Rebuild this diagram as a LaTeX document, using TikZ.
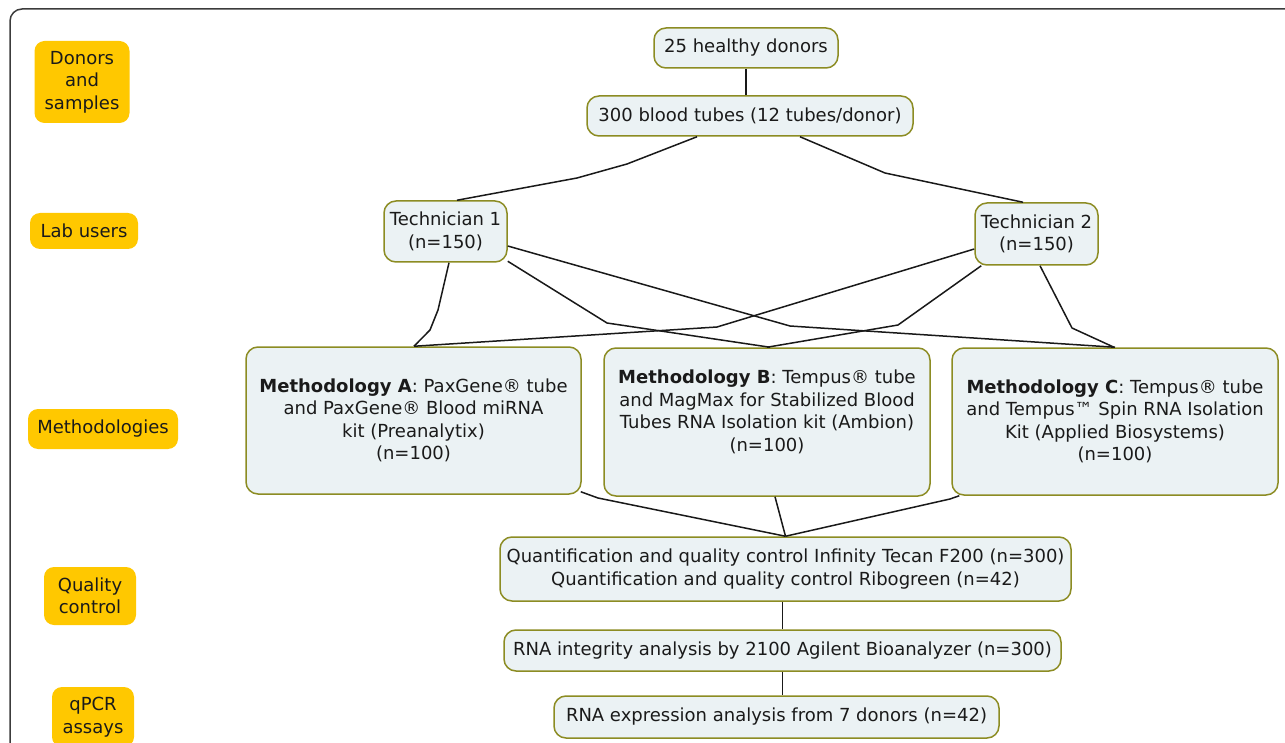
\documentclass[tikz,border=0pt]{standalone}
\usepackage{fontspec}
\setmainfont{DejaVu Sans}
\usetikzlibrary{calc}
\definecolor{catyellow}{HTML}{FFC800}
\definecolor{boxfill}{HTML}{EBF2F4}
\definecolor{boxline}{HTML}{8C8C23}
\definecolor{framecol}{HTML}{3C3C3C}
\definecolor{txt}{HTML}{1A1A1A}
\tikzset{
  basefont/.style={font=\fontsize{18}{22.5}\selectfont, text=txt},
  cat/.style={basefont, fill=catyellow, rounded corners=10pt, align=center, inner sep=2pt},
  box/.style={basefont, draw=boxline, fill=boxfill, line width=1.5pt, rounded corners=12pt, align=center, inner sep=2pt},
  conn/.style={draw=black!90, line width=1.5pt, line join=round},
}
\begin{document}
\begin{tikzpicture}[x=1pt, y=-1pt]
\useasboundingbox (0,0) rectangle (1285,743);
\clip (0,0) rectangle (1285,743);
\fill[white] (0,0) rectangle (1285,743);
\draw[framecol, line width=1.5pt, rounded corners=12pt] (10,9) rectangle (1310,770);

% category labels
\node[cat, minimum width=95pt, minimum height=82pt] (cDonors) at (82,82) {Donors\\and\\samples};
\node[cat, minimum width=108pt, minimum height=36pt] (cLab) at (84,231) {Lab users};
\node[cat, minimum width=150pt, minimum height=40pt] (cMeth) at (103,429) {Methodologies};
\node[cat, minimum width=92pt, minimum height=58pt] (cQC) at (90,596) {Quality\\control};
\node[cat, minimum width=82pt, minimum height=60pt] (cQPCR) at (93,717) {qPCR\\assays};

% main boxes
\node[box, minimum width=184pt, minimum height=40pt] (donors) at (746,48) {25 healthy donors};
\node[box, minimum width=326pt, minimum height=40pt] (tubes) at (750,116) {300 blood tubes (12 tubes/donor)};
\node[box, minimum width=123pt, minimum height=61pt] (tech1) at (445.5,231.5) {Technician 1\\(n=150)};
\node[box, minimum width=123pt, minimum height=62pt] (tech2) at (1036.5,234) {Technician 2\\(n=150)};
\node[box, minimum width=335pt, minimum height=147pt] (methA) at (413.5,420.5)
  {\textbf{Methodology A}: PaxGene® tube\\and PaxGene® Blood miRNA\\kit (Preanalytix)\\(n=100)};
\node[box, minimum width=326pt, minimum height=148pt] (methB) at (767,422)
  {\textbf{Methodology B}: Tempus® tube\\and MagMax for Stabilized Blood\\Tubes RNA Isolation kit (Ambion)\\(n=100)\\\mbox{}};
\node[box, minimum width=326pt, minimum height=147pt] (methC) at (1115,421.5)
  {\textbf{Methodology C}: Tempus® tube\\and Tempus™ Spin RNA Isolation\\Kit (Applied Biosystems)\\(n=100)};
\node[box, minimum width=571pt, minimum height=64pt] (quant) at (785.5,569)
  {Quantification and quality control Infinity Tecan F200 (n=300)\\Quantification and quality control Ribogreen (n=42)};
\node[box, minimum width=557pt, minimum height=41pt] (integ) at (782.5,650.5)
  {RNA integrity analysis by 2100 Agilent Bioanalyzer (n=300)};
\node[box, minimum width=445pt, minimum height=42pt] (expr) at (776.5,717)
  {RNA expression analysis from 7 donors (n=42)};

% bend points
\coordinate (b1a) at (627,164);
\coordinate (b1b) at (577,178);
\coordinate (b2a) at (885,173);
\coordinate (b3a) at (438,310);
\coordinate (b3b) at (430,330);
\coordinate (b4a) at (607,323);
\coordinate (b5a) at (790,326);
\coordinate (b6a) at (717,327);
\coordinate (b7a) at (898,325);
\coordinate (b8a) at (1072,328);
\coordinate (b9a) at (598,498);
\coordinate (b10a) at (950,499);

% connectors
\draw[conn] (donors.south) -- (donors.south |- tubes.north);
\draw[conn] ([xshift=-53pt]tubes.south) -- (b1a) -- (b1b) -- ([xshift=11.5pt]tech1.north);
\draw[conn] ([xshift=50pt]tubes.south) -- (b2a) -- ([xshift=-13.5pt]tech2.north);
\draw[conn] ([xshift=3.5pt]tech1.south) -- (b3a) -- (b3b) -- ([xshift=0.5pt]methA.north);
\draw[conn] ([yshift=1.5pt]tech1.south east) -- (b4a) -- ([xshift=3pt]methB.north);
\draw[conn] ([yshift=-14.5pt]tech1.east) -- (b5a) -- (methC.north);
\draw[conn] ([yshift=-15pt]tech2.west) -- (b6a) -- ([xshift=0.5pt]methA.north);
\draw[conn] ([xshift=7pt]tech2.south west) -- (b7a) -- (methB.north);
\draw[conn] ([xshift=3.5pt]tech2.south) -- (b8a) -- ([xshift=-1pt]methC.north);
\draw[conn] ([shift={(-1pt,3pt)}]methA.south east) -- (b9a) -- (quant.north);
\draw[conn] ([xshift=8pt]methB.south) -- (quant.north);
\draw[conn] ([xshift=8pt]methC.south west) -- (b10a) -- (quant.north);
\draw[conn] (integ.north |- quant.south) -- (integ.north);
\draw[conn] (integ.south) -- (integ.south |- expr.north);
\end{tikzpicture}
\end{document}
